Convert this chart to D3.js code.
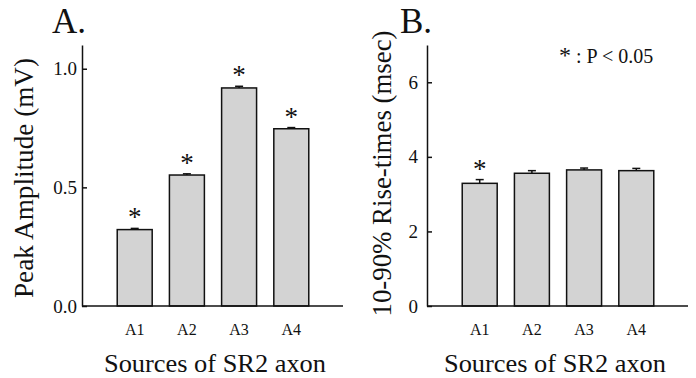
<!DOCTYPE html>
<html>
<head>
<meta charset="utf-8">
<script src="https://cdn.jsdelivr.net/npm/d3@7"></script>
<style>
  body { margin: 0; background: #fff; }
  text { font-family: "Liberation Serif", "Times New Roman", serif; fill: #111; }
</style>
</head>
<body>
<div id="chart"></div>
<script>
// data
const sources = ['A1', 'A2', 'A3', 'A4'];
const peakAmp = [0.322, 0.552, 0.919, 0.747];
const peakAmpErr = [0.005, 0.005, 0.007, 0.005];
const peakSig = [true, true, true, true];
const riseTime = [3.29, 3.56, 3.65, 3.63];
const riseTimeErr = [0.10, 0.07, 0.05, 0.06];
const riseSig = [true, false, false, false];
const ampTicks = [0, 0.5, 1.0];
const riseTicks = [0, 2, 4, 6];

const width = 696, height = 378;
const plotTop = 45, plotBottom = 306;

const svg = d3.select('#chart')
    .append('svg')
    .attr('width', width)
    .attr('height', height);

function drawPanel(opts) {
    const g = svg.append('g');
    const ax = opts.ax;

    const y = d3.scaleLinear().domain([0, opts.max]).range([plotBottom, plotTop]);
    const x = d3.scaleBand()
        .domain(sources)
        .range([ax + 18, ax + 244])
        .paddingInner(0.33)
        .paddingOuter(0.33);

    // bars
    g.selectAll('rect.bar')
        .data(opts.values)
        .join('rect')
        .attr('class', 'bar')
        .attr('x', (d, i) => x(sources[i]))
        .attr('y', d => y(d))
        .attr('width', x.bandwidth())
        .attr('height', d => y(0) - y(d))
        .attr('fill', '#d3d3d3')
        .attr('stroke', '#111')
        .attr('stroke-width', 1.5);

    // error bars (upper only)
    const err = g.selectAll('g.err')
        .data(opts.values)
        .join('g')
        .attr('class', 'err');
    err.append('line')
        .attr('x1', (d, i) => x(sources[i]) + x.bandwidth() / 2)
        .attr('x2', (d, i) => x(sources[i]) + x.bandwidth() / 2)
        .attr('y1', d => y(d))
        .attr('y2', (d, i) => y(d + opts.errs[i]))
        .attr('stroke', '#111')
        .attr('stroke-width', 1.5);
    err.append('line')
        .attr('x1', (d, i) => x(sources[i]) + x.bandwidth() / 2 - 4)
        .attr('x2', (d, i) => x(sources[i]) + x.bandwidth() / 2 + 4)
        .attr('y1', (d, i) => y(d + opts.errs[i]))
        .attr('y2', (d, i) => y(d + opts.errs[i]))
        .attr('stroke', '#111')
        .attr('stroke-width', 1.5);

    // asterisks
    g.selectAll('text.star')
        .data(opts.values.map((d, i) => ({v: d + opts.errs[i], s: opts.sig[i], k: sources[i]})).filter(d => d.s))
        .join('text')
        .attr('class', 'star')
        .attr('x', d => x(d.k) + x.bandwidth() / 2)
        .attr('y', d => y(d.v) - 2)
        .attr('text-anchor', 'middle')
        .style('font-size', '27px')
        .text('*');

    // y axis, ticks pointing inward
    const yAxis = g.append('g')
        .attr('transform', 'translate(' + ax + ',0)')
        .call(d3.axisLeft(y)
            .tickValues(opts.ticks)
            .tickFormat(opts.fmt)
            .tickSizeInner(-5)
            .tickSizeOuter(0)
            .tickPadding(opts.pad));
    yAxis.select('.domain').attr('stroke', '#111').attr('stroke-width', 1.5);
    yAxis.selectAll('.tick line').attr('stroke', '#111').attr('stroke-width', 1.5);
    yAxis.selectAll('.tick text')
        .style('font-family', '"Liberation Serif", serif')
        .style('font-size', '19px')
        .attr('fill', '#111');

    // x axis baseline
    g.append('line')
        .attr('x1', ax)
        .attr('x2', ax + 261)
        .attr('y1', y(0))
        .attr('y2', y(0))
        .attr('stroke', '#111')
        .attr('stroke-width', 1.5);

    // x labels
    const xAxis = g.append('g')
        .attr('transform', 'translate(0,' + (y(0) + 18) + ')')
        .call(d3.axisBottom(x).tickSize(0).tickPadding(0));
    xAxis.select('.domain').remove();
    xAxis.selectAll('.tick text')
        .style('font-family', '"Liberation Serif", serif')
        .style('font-size', '16px')
        .attr('fill', '#111');

    // titles
    g.append('text')
        .attr('transform', 'translate(' + opts.ylx + ',' + opts.yly + ') rotate(-90)')
        .attr('text-anchor', 'middle')
        .attr('textLength', opts.ylen)
        .attr('lengthAdjust', 'spacingAndGlyphs')
        .style('font-size', '27px')
        .text(opts.ylabel);

    g.append('text')
        .attr('x', opts.xtx)
        .attr('y', 372)
        .attr('text-anchor', 'middle')
        .attr('textLength', 222)
        .attr('lengthAdjust', 'spacingAndGlyphs')
        .style('font-size', '26px')
        .text('Sources of SR2 axon');

    g.append('text')
        .attr('x', opts.letterX)
        .attr('y', 33)
        .style('font-size', '35px')
        .text(opts.letter);
}

drawPanel({
    ax: 82, max: 1.1, values: peakAmp, errs: peakAmpErr, sig: peakSig,
    ticks: ampTicks, fmt: d3.format('.1f'), pad: 5,
    ylabel: 'Peak Amplitude (mV)', ylx: 33, yly: 178, ylen: 240,
    xtx: 215, letter: 'A.', letterX: 52
});

drawPanel({
    ax: 427, max: 7, values: riseTime, errs: riseTimeErr, sig: riseSig,
    ticks: riseTicks, fmt: d3.format('d'), pad: 9,
    ylabel: '10-90% Rise-times (msec)', ylx: 391, yly: 173.5, ylen: 286,
    xtx: 555, letter: 'B.', letterX: 400
});

// significance legend
const legend = svg.append('text')
    .attr('x', 559)
    .attr('y', 63)
    .style('font-size', '20px');
legend.append('tspan')
    .style('font-size', '24px')
    .text('*');
legend.append('tspan')
    .attr('dx', 5)
    .text(': P < 0.05');
</script>
</body>
</html>
